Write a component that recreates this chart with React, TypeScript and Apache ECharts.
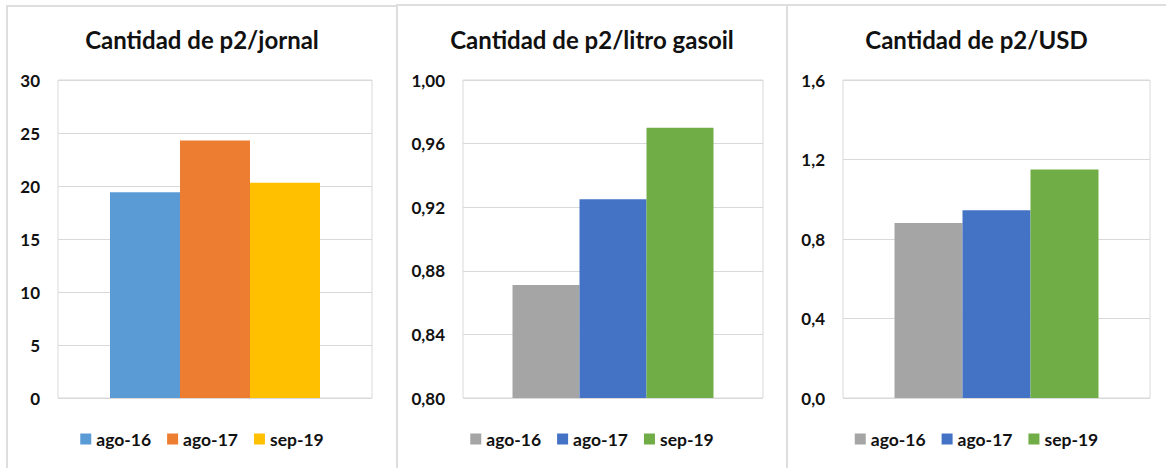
import React, { useEffect, useRef } from "react";
import * as echarts from "echarts";

const seriesNames = ["ago-16", "ago-17", "sep-19"];

const titles = ["Cantidad de p2/jornal", "Cantidad de p2/litro gasoil", "Cantidad de p2/USD"];

const jornalValues = [19.4, 24.3, 20.3];
const gasoilValues = [0.871, 0.925, 0.97];
const usdValues = [0.88, 0.945, 1.15];

const jornalColors = ["#5B9BD5", "#ED7D31", "#FFC000"];
const otherColors = ["#A5A5A5", "#4472C4", "#70AD47"];

const jornalAxis = { min: 0, max: 30, interval: 5, decimals: 0 };
const gasoilAxis = { min: 0.8, max: 1.0, interval: 0.04, decimals: 2 };
const usdAxis = { min: 0, max: 1.6, interval: 0.4, decimals: 1 };

const FONT = "Lato";

type PanelProps = {
  left: number;
  width: number;
  title: string;
  values: number[];
  colors: string[];
  axis: { min: number; max: number; interval: number; decimals: number };
  gridLeft: number;
  gridRight: number;
  barWidth: number;
};

function Panel(p: PanelProps) {
  const ref = useRef<HTMLDivElement>(null);
  useEffect(() => {
    if (!ref.current) return;
    const chart = echarts.init(ref.current, null, { renderer: "svg" });
    chart.setOption({
      animation: false,
      title: {
        text: p.title,
        left: "center",
        top: 22,
        textStyle: { fontFamily: FONT, fontSize: 24, fontWeight: "bold", color: "#111" },
      },
      legend: {
        data: seriesNames,
        bottom: 15,
        left: "center",
        icon: "rect",
        itemWidth: 11,
        itemHeight: 11,
        itemGap: 16,
        textStyle: { fontFamily: FONT, fontSize: 17.5, fontWeight: "bold", color: "#111" },
      },
      grid: {
        left: p.gridLeft,
        right: p.gridRight,
        top: 80,
        bottom: 70,
        show: true,
        borderColor: "#d9d9d9",
        borderWidth: 1,
      },
      xAxis: {
        type: "category",
        data: [""],
        axisLine: { show: false },
        axisTick: { show: false },
        axisLabel: { show: false },
      },
      yAxis: {
        type: "value",
        min: p.axis.min,
        max: p.axis.max,
        interval: p.axis.interval,
        axisLine: { show: false },
        axisTick: { show: false },
        splitLine: { lineStyle: { color: "#d9d9d9", width: 1 } },
        axisLabel: {
          margin: 18,
          fontFamily: FONT,
          fontSize: 17,
          fontWeight: "bold",
          color: "#111",
          formatter: (v: number) => v.toFixed(p.axis.decimals).replace(".", ","),
        },
      },
      series: seriesNames.map((name, i) => ({
        name,
        type: "bar",
        data: [p.values[i]],
        barWidth: p.barWidth,
        barGap: "0%",
        itemStyle: { color: p.colors[i] },
      })),
      color: p.colors,
    });
    return () => chart.dispose();
  }, []);
  return (
    <div
      ref={ref}
      style={{ position: "absolute", left: p.left, top: 0, width: p.width, height: 468 }}
    />
  );
}

const line = (x: number, y: number, w: number, h: number) => (
  <div style={{ position: "absolute", left: x, top: y, width: w, height: h, background: "#dedede" }} />
);

export default function App() {
  useEffect(() => {
    document.body.style.margin = "0";
  }, []);
  return (
    <div style={{ position: "absolute", left: 0, top: 0, width: 1166, height: 468, background: "#fff", overflow: "hidden" }}>
      {line(6, 5, 390, 2)}
      {line(6, 5, 2, 463)}
      {line(396, 4, 390, 2)}
      {line(396, 4, 2, 464)}
      {line(786, 4, 380, 2)}
      {line(786, 4, 2, 464)}
      <Panel
        left={7}
        width={390}
        title={titles[0]}
        values={jornalValues}
        colors={jornalColors}
        axis={jornalAxis}
        gridLeft={51}
        gridRight={25}
        barWidth={70}
      />
      <Panel
        left={397}
        width={390}
        title={titles[1]}
        values={gasoilValues}
        colors={otherColors}
        axis={gasoilAxis}
        gridLeft={66}
        gridRight={24}
        barWidth={67}
      />
      <Panel
        left={787}
        width={379}
        title={titles[2]}
        values={usdValues}
        colors={otherColors}
        axis={usdAxis}
        gridLeft={56}
        gridRight={16}
        barWidth={68}
      />
    </div>
  );
}
